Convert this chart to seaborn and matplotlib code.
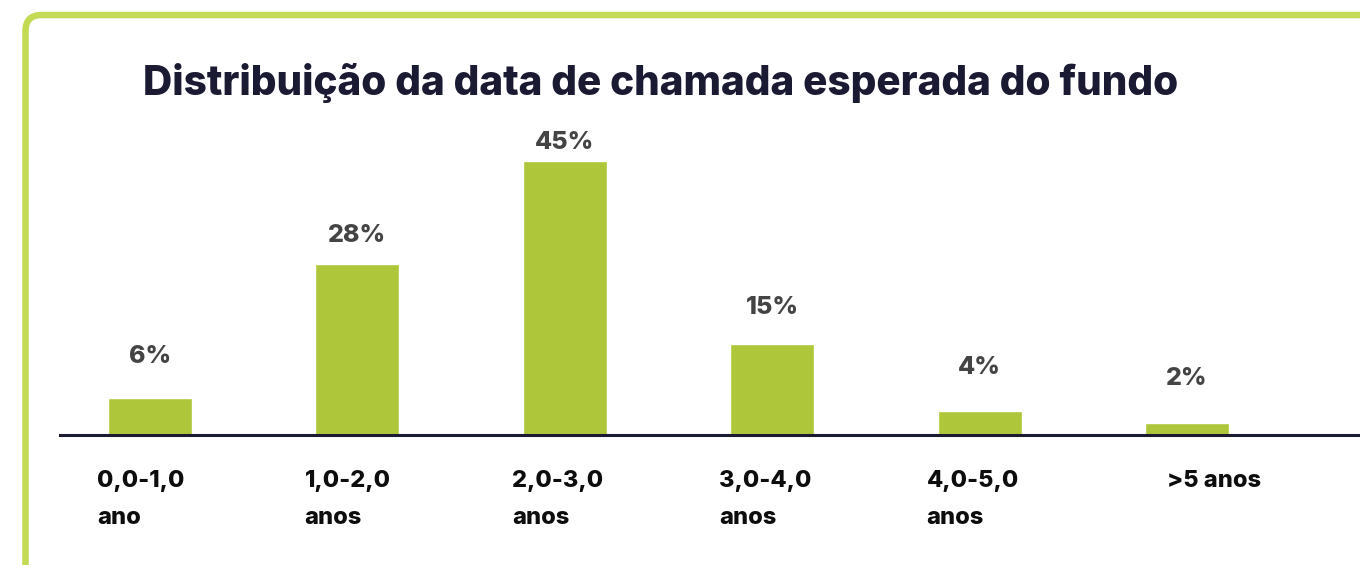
import matplotlib
matplotlib.use("Agg")
import matplotlib.pyplot as plt
from matplotlib.patches import FancyBboxPatch
import pandas as pd
import seaborn as sns

# ── data ──────────────────────────────────────────────────────────────────────
categories = ["0,0-1,0\nano", "1,0-2,0\nanos", "2,0-3,0\nanos",
              "3,0-4,0\nanos", "4,0-5,0\nanos", ">5 anos"]
shares = [6, 28, 45, 15, 4, 2]

title = "Distribuição da data de chamada esperada do fundo"

BAR_GREEN = "#AEC73A"
BORDER_GREEN = "#C3DA55"
NAVY = "#1B1A33"
LABEL_GREY = "#444444"

sns.set_theme(style="white")
plt.rcParams["font.family"] = ["Inter", "DejaVu Sans"]

df = pd.DataFrame({"cat": categories, "share": shares})

fig = plt.figure(figsize=(13.6, 5.65), dpi=100)
fig.patch.set_facecolor("white")

# card border (top + left visible, rounded corner)
card = FancyBboxPatch(
    (25.5, -60), 1500, 610,
    boxstyle="round,pad=0,rounding_size=16",
    transform=None, facecolor="none", edgecolor=BORDER_GREEN,
    linewidth=6.5 * 72 / 100, zorder=-5,
)
fig.add_artist(card)

ax = fig.add_axes([60 / 1360, 130 / 565, 1 - 60 / 1360, 0.539])
ax.set_facecolor("none")

sns.barplot(data=df, x="cat", y="share", color=BAR_GREEN, width=0.405,
            saturation=1, ax=ax, zorder=2)

ax.set_xlim(-0.434, 5.834)
ax.set_ylim(0, 50)

# value labels above the bars
for i, v in enumerate(shares):
    ax.text(i, 0.9 * v + 7.5, f"{v}%", ha="center", va="center",
            fontsize=18, fontweight="heavy", color=LABEL_GREY)

# category labels, left aligned under each bar, one line at a time
ax.set_xticks([])
label_shift = [-0.255] * 5 + [-0.096]
for i, lab in enumerate(categories):
    for k, line in enumerate(lab.split("\n")):
        ax.annotate(line, xy=(i + label_shift[i], 0), xytext=(0, -52 - 37 * k),
                    textcoords="offset pixels", ha="left", va="baseline",
                    fontsize=17, fontweight="heavy", color="#0d0d0d",
                    annotation_clip=False)

sns.despine(ax=ax, left=True, top=True, right=True)
ax.spines["bottom"].set_color(NAVY)
ax.spines["bottom"].set_linewidth(2.2)
ax.set_yticks([])
ax.set_xlabel("")
ax.set_ylabel("")

fig.text(143 / 1360, (565 - 95) / 565, title, ha="left", va="baseline",
         fontsize=29.2, fontweight="heavy", color=NAVY)

fig.savefig("out.png", dpi=100)
